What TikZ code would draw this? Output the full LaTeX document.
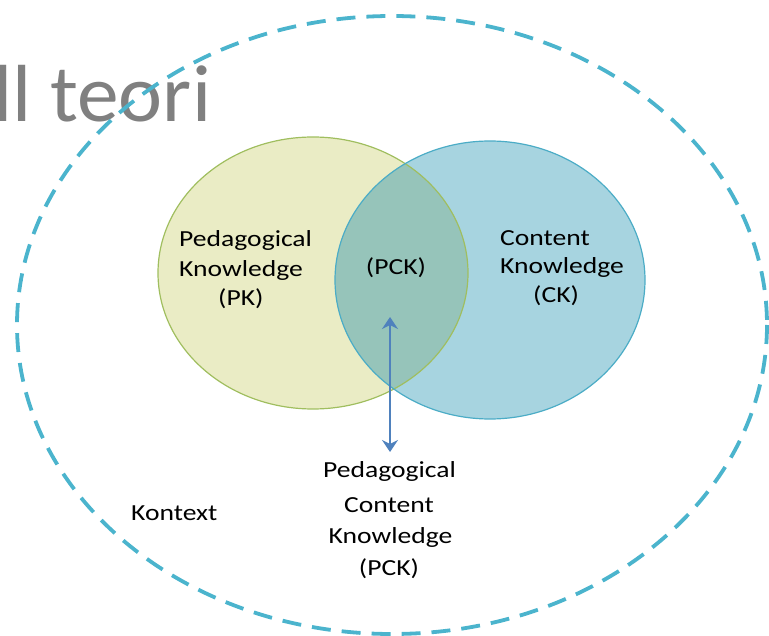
\documentclass[tikz,border=0pt]{standalone}
\usepackage{fontspec}
\setmainfont{Carlito}
\newfontfamily\labfont[FakeStretch=1.2]{Carlito}
\newfontfamily\titfont[FakeStretch=1.03]{Carlito}
\usetikzlibrary{arrows.meta}
\definecolor{pkfill}{RGB}{234,236,197}
\definecolor{pkline}{RGB}{160,190,95}
\definecolor{ckfill}{RGB}{167,212,224}
\definecolor{ckline}{RGB}{75,172,198}
\definecolor{pckfill}{RGB}{150,196,186}
\definecolor{ctxline}{RGB}{75,180,205}
\definecolor{arrowcol}{RGB}{79,129,189}
\definecolor{titlegray}{RGB}{128,128,128}
\tikzset{
  lab/.style={font=\labfont\fontsize{23}{28}\selectfont, text=black, inner sep=0pt, anchor=base},
  labw/.style={lab, anchor=base west},
  ctx/.style={draw=ctxline, line width=3.8pt, dash pattern=on 19pt off 11pt},
}
\begin{document}
\begin{tikzpicture}[x=1pt,y=-1pt]
\useasboundingbox (0,0) rectangle (769,636);
\clip (0,0) rectangle (769,636);
% title
\node[font=\titfont\fontsize{81}{96}\selectfont, text=titlegray, inner sep=0pt, anchor=base west] (title) at (-7,122) {ll teori};
% context ellipse
\draw[ctx] (392,325) ellipse [x radius=375, y radius=309];
% circles
\fill[pkfill] (313,273) ellipse [x radius=155, y radius=136];
\fill[ckfill] (490,280) ellipse [x radius=155, y radius=139];
\begin{scope}
  \clip (313,273) ellipse [x radius=155, y radius=136];
  \fill[pckfill] (490,280) ellipse [x radius=155, y radius=139];
\end{scope}
\draw[pkline, line width=1.2pt] (313,273) ellipse [x radius=155, y radius=136];
\draw[ckline, line width=1.2pt] (490,280) ellipse [x radius=155, y radius=139];
% labels
\node[labw] (pk1) at (179,247) {Pedagogical};
\node[labw] (pk2) at (179,277) {Knowledge};
\node[labw] (pk3) at (218,306) {(PK)};
\node[lab] (pck) at (396,275) {(PCK)};
\node[labw] (ck1) at (500,246) {Content};
\node[labw] (ck2) at (500,274) {Knowledge};
\node[labw] (ck3) at (533,303) {(CK)};
\node[lab] (b1) at (389.5,477) {Pedagogical};
\node[lab] (b2) at (389,512) {Content};
\node[lab] (b3) at (390.5,543) {Knowledge};
\node[lab] (b4) at (389,575) {(PCK)};
\node[labw] (kontext) at (131,520) {Kontext};
% arrow
\coordinate (atop) at (390,317);
\coordinate (abot) at (390,452);
\draw[arrowcol, line width=2.6pt, {Stealth[length=12pt,width=16pt,inset=4pt]}-{Stealth[length=12pt,width=16pt,inset=4pt]}] (atop) -- (abot);
\end{tikzpicture}
\end{document}
